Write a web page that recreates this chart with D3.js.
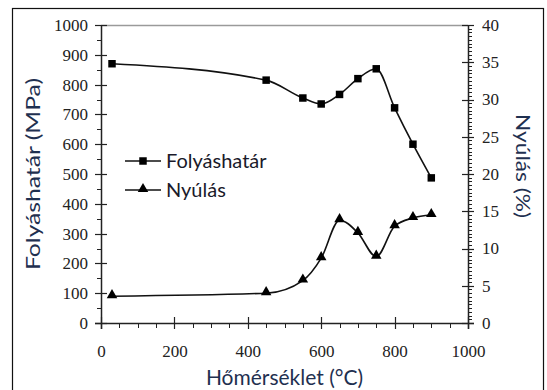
<!DOCTYPE html>
<html>
<head>
<meta charset="utf-8">
<script src="https://cdn.jsdelivr.net/npm/d3@7"></script>
<style>
  html, body { margin: 0; padding: 0; background: #fff; }
  svg { display: block; }
</style>
</head>
<body>
<svg id="chart" width="547" height="390"></svg>
<script>
// Temperature (°C) at each test point
const temperatures = [30, 450, 550, 600, 650, 700, 750, 800, 850, 900];
// Yield strength, MPa (left axis)
const yieldStrength = [870, 815, 755, 735, 767, 820, 853, 722, 600, 487];
// Elongation, % (right axis)
const elongation = [3.6, 4.0, 5.7, 8.7, 13.8, 12.1, 8.9, 13.0, 14.1, 14.5];

const xTicks = [0, 200, 400, 600, 800, 1000];
const yLeftTicks = [0, 100, 200, 300, 400, 500, 600, 700, 800, 900, 1000];
const yRightTicks = [0, 5, 10, 15, 20, 25, 30, 35, 40];

const seriesNames = ["Folyáshatár", "Nyúlás"];
const xTitle = "Hőmérséklet (°C)";
const yLeftTitle = "Folyáshatár (MPa)";
const yRightTitle = "Nyúlás (%)";

const svg = d3.select("#chart");
const plot = { left: 101, right: 468, top: 25, bottom: 323 };

const x = d3.scaleLinear().domain([0, 1000]).range([plot.left, plot.right]);
const yL = d3.scaleLinear().domain([0, 1000]).range([plot.bottom, plot.top]);
const yR = d3.scaleLinear().domain([0, 40]).range([plot.bottom, plot.top]);

const serif = "'Times New Roman', 'Liberation Serif', Tinos, 'DejaVu Serif', 'Noto Serif', serif";
const sans = "Lato, 'Open Sans', sans-serif";
const titleColor = "#1f3050";

// outer frame (bottom edge falls outside the view)
svg.append("rect")
  .attr("x", 12.5).attr("y", 8.5)
  .attr("width", 531).attr("height", 400)
  .attr("fill", "none").attr("stroke", "#111").attr("stroke-width", 1.2);

// top border of plot area
svg.append("line")
  .attr("x1", plot.left).attr("x2", plot.right)
  .attr("y1", plot.top + 0.5).attr("y2", plot.top + 0.5)
  .attr("stroke", "#9a9a9a").attr("stroke-width", 1.5);

const axisStroke = "#222";

// minor ticks drawn on the outer side of each axis
function minorTicks(g, values, pos, orient, len) {
  g.selectAll(null).data(values).enter().append("line")
    .attr("stroke", axisStroke).attr("stroke-width", 1)
    .each(function (d) {
      const s = d3.select(this);
      const p = Math.round(pos(d)) + 0.5;
      if (orient === "left") s.attr("x1", plot.left - len).attr("x2", plot.left).attr("y1", p).attr("y2", p);
      if (orient === "right") s.attr("x1", plot.right).attr("x2", plot.right + len).attr("y1", p).attr("y2", p);
      if (orient === "bottom") s.attr("y1", plot.bottom).attr("y2", plot.bottom + len).attr("x1", p).attr("x2", p);
    });
}

function styleTickText(g) {
  g.attr("font-family", null).attr("font-size", null);
  g.selectAll("text")
    .style("font-family", serif)
    .style("font-size", "17px")
    .attr("fill", "#222");
}

const gAxes = svg.append("g");

// left axis
const leftAxis = d3.axisLeft(yL).tickValues(yLeftTicks).tickSize(0).tickPadding(13).tickFormat(d3.format("d"));
const gl = gAxes.append("g").attr("transform", `translate(${plot.left},0)`).call(leftAxis);
gl.select(".domain").remove();
styleTickText(gl);
minorTicks(gAxes, d3.range(50, 1000, 100), yL, "left", 4);
gAxes.selectAll(null).data(yLeftTicks).enter().append("line")
  .attr("x1", plot.left - 6).attr("x2", plot.left + 6)
  .attr("y1", d => Math.round(yL(d)) + 0.5).attr("y2", d => Math.round(yL(d)) + 0.5)
  .attr("stroke", axisStroke).attr("stroke-width", 1.2);
gAxes.append("line")
  .attr("x1", plot.left + 0.5).attr("x2", plot.left + 0.5)
  .attr("y1", plot.top).attr("y2", plot.bottom + 6)
  .attr("stroke", axisStroke).attr("stroke-width", 1.5);

// right axis
const rightAxis = d3.axisRight(yR).tickValues(yRightTicks).tickSize(0).tickPadding(14).tickFormat(d3.format("d"));
const gr = gAxes.append("g").attr("transform", `translate(${plot.right},0)`).call(rightAxis);
gr.select(".domain").remove();
styleTickText(gr);
minorTicks(gAxes, d3.range(0, 40.01, 0.5).filter(v => v % 5 !== 0), yR, "right", 4);
gAxes.selectAll(null).data(yRightTicks).enter().append("line")
  .attr("x1", plot.right - 6).attr("x2", plot.right + 6)
  .attr("y1", d => Math.round(yR(d)) + 0.5).attr("y2", d => Math.round(yR(d)) + 0.5)
  .attr("stroke", axisStroke).attr("stroke-width", 1.2);
gAxes.append("line")
  .attr("x1", plot.right + 0.5).attr("x2", plot.right + 0.5)
  .attr("y1", plot.top).attr("y2", plot.bottom + 6)
  .attr("stroke", axisStroke).attr("stroke-width", 1.5);

// bottom axis
const bottomAxis = d3.axisBottom(x).tickValues(xTicks).tickSize(0).tickPadding(22).tickFormat(d3.format("d"));
const gb = gAxes.append("g").attr("transform", `translate(0,${plot.bottom})`).call(bottomAxis);
gb.select(".domain").remove();
styleTickText(gb);
minorTicks(gAxes, d3.range(50, 1000, 50).filter(v => v % 200 !== 0), x, "bottom", 5);
gAxes.selectAll(null).data(xTicks).enter().append("line")
  .attr("y1", plot.bottom - 6).attr("y2", plot.bottom + 6)
  .attr("x1", d => Math.round(x(d)) + 0.5).attr("x2", d => Math.round(x(d)) + 0.5)
  .attr("stroke", axisStroke).attr("stroke-width", 1.2);
gAxes.append("line")
  .attr("x1", plot.left - 6).attr("x2", plot.right + 6)
  .attr("y1", plot.bottom + 0.5).attr("y2", plot.bottom + 0.5)
  .attr("stroke", axisStroke).attr("stroke-width", 1.5);

// axis titles
svg.append("text")
  .attr("x", (plot.left + plot.right) / 2).attr("y", 385)
  .attr("text-anchor", "middle")
  .attr("font-family", sans).attr("font-size", 21).attr("fill", titleColor)
  .text(xTitle);
svg.append("text")
  .attr("transform", `translate(40,${(plot.top + plot.bottom) / 2}) rotate(-90)`)
  .attr("text-anchor", "middle")
  .attr("font-family", sans).attr("font-size", 20).attr("fill", titleColor)
  .attr("textLength", 192).attr("lengthAdjust", "spacingAndGlyphs")
  .text(yLeftTitle);
svg.append("text")
  .attr("transform", `translate(516,${(plot.top + plot.bottom) / 2 - 8}) rotate(90)`)
  .attr("text-anchor", "middle")
  .attr("font-family", sans).attr("font-size", 20).attr("fill", titleColor)
  .attr("textLength", 104).attr("lengthAdjust", "spacingAndGlyphs")
  .text(yRightTitle);

// series
const curve = d3.curveMonotoneX;
const lineL = d3.line().x((d, i) => x(temperatures[i])).y(d => yL(d)).curve(curve);
const lineR = d3.line().x((d, i) => x(temperatures[i])).y(d => yR(d)).curve(curve);

svg.append("path").attr("d", lineL(yieldStrength))
  .attr("fill", "none").attr("stroke", "#111").attr("stroke-width", 1.6);
svg.append("path").attr("d", lineR(elongation))
  .attr("fill", "none").attr("stroke", "#111").attr("stroke-width", 1.6);

const square = d3.symbol().type(d3.symbolSquare).size(56);
const triangle = d3.symbol().type(d3.symbolTriangle).size(48);

svg.selectAll(".sq").data(yieldStrength).enter().append("path")
  .attr("class", "sq")
  .attr("transform", (d, i) => `translate(${x(temperatures[i])},${yL(d)})`)
  .attr("d", square).attr("fill", "#000");
svg.selectAll(".tri").data(elongation).enter().append("path")
  .attr("class", "tri")
  .attr("transform", (d, i) => `translate(${x(temperatures[i])},${yR(d) - 1})`)
  .attr("d", triangle).attr("fill", "#000");

// legend
const legend = svg.append("g").attr("transform", "translate(125,161)");
const legendShapes = [square, triangle];
seriesNames.forEach((name, i) => {
  const g = legend.append("g").attr("transform", `translate(0,${i * 29})`);
  g.append("line").attr("x1", 0).attr("x2", 36).attr("y1", 0).attr("y2", 0)
    .attr("stroke", "#111").attr("stroke-width", 1.6);
  g.append("path").attr("d", legendShapes[i]).attr("transform", `translate(18,${i === 1 ? -1 : 0})`).attr("fill", "#000");
  g.append("text").attr("x", 41).attr("y", 7)
    .attr("font-family", sans).attr("font-size", 20).attr("fill", "#1a1a2a")
    .text(name);
});
</script>
</body>
</html>
